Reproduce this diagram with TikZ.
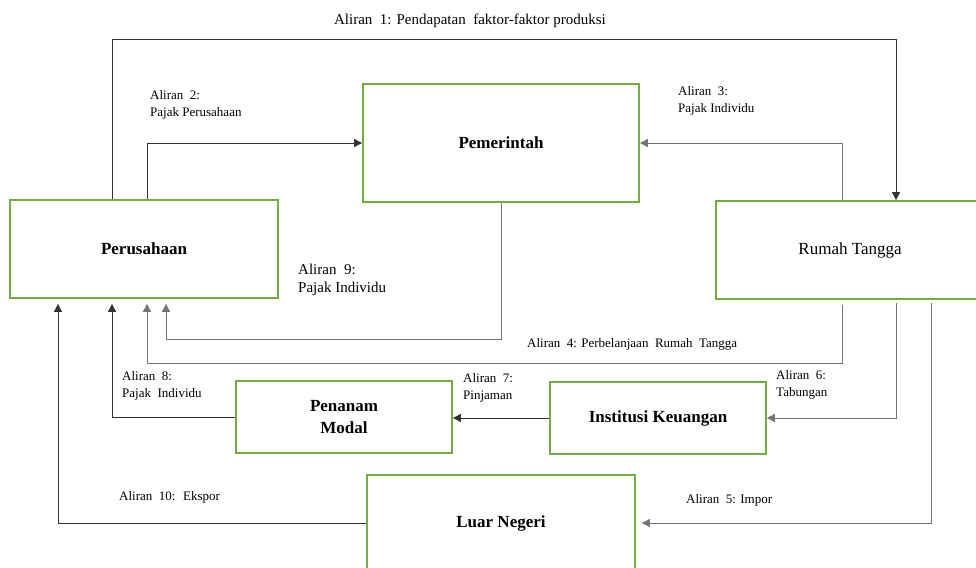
\documentclass[tikz,border=0pt]{standalone}
\usepackage{fontspec}
\setmainfont{Liberation Serif}
\usetikzlibrary{arrows.meta}
\definecolor{secGreen}{RGB}{112,173,71}
\definecolor{flowDark}{RGB}{50,50,50}
\definecolor{flowGrey}{RGB}{115,115,115}

\begin{document}
\begin{tikzpicture}[x=1pt, y=-1pt,
    sector/.style={draw=secGreen, line width=1.8pt, align=center,
                   font=\fontsize{17}{22}\selectfont},
    flow/.style={draw=flowDark, line width=0.9pt,
                 -{Triangle[length=8pt, width=8pt]}},
    flowlabel/.style={anchor=north west, inner sep=0pt, align=left,
                      font=\fontsize{13}{17}\selectfont}]
    \useasboundingbox (0,0) rectangle (976,567);
    \clip (0,0) rectangle (976,567);
    % sectors
    \node[sector, minimum width=268pt, minimum height=98pt] (perusahaan) at (144,249)
      {\textbf{Perusahaan}};
    \node[sector, minimum width=276pt, minimum height=118pt] (pemerintah) at (501,143)
      {\textbf{Pemerintah}};
    \node[sector, minimum width=268pt, minimum height=98pt] (rumah) at (850,250)
      {Rumah Tangga};
    \node[sector, minimum width=216pt, minimum height=72pt] (penanam) at (344,417)
      {\textbf{Penanam}\\\textbf{Modal}};
    \node[sector, minimum width=216pt, minimum height=72pt] (institusi) at (658,418)
      {\textbf{Institusi Keuangan}};
    \node[sector, minimum width=268pt, minimum height=96pt] (luar) at (501,523)
      {\textbf{Luar Negeri}};
    % flows
    \draw[flow] ([xshift=-32pt]perusahaan.north) -- ++(0,-160) -| ([xshift=46pt]rumah.north);
    \draw[flow] ([xshift=3pt]perusahaan.north) |- (pemerintah.west);
    \draw[flow, draw=flowGrey] ([xshift=-8pt]rumah.north) |- (pemerintah.east);
    \draw[flow, draw=flowGrey, shorten <=5pt, shorten >=5pt]
      ([xshift=-8pt]rumah.south) -- ++(0,64) -| ([xshift=3pt]perusahaan.south);
    \draw[flow, draw=flowGrey, shorten <=3pt, shorten >=6pt]
      ([xshift=81pt]rumah.south) |- (luar.east);
    \draw[flow, draw=flowGrey, shorten <=3pt] ([xshift=46pt]rumah.south) |- (institusi.east);
    \draw[flow] (institusi.west) -- (institusi.west -| penanam.east);
    \draw[flow, shorten >=5pt] (penanam.west) -| ([xshift=-32pt]perusahaan.south);
    \draw[flow, draw=flowGrey, shorten >=5pt]
      (pemerintah.south) -- ++(0,137) -| ([xshift=22pt]perusahaan.south);
    \draw[flow, shorten >=5pt] (luar.west) -| ([xshift=-86pt]perusahaan.south);
    % labels
    \node[flowlabel, anchor=north, font=\fontsize{15}{18}\selectfont] (lbl1) at (470,14)
      {Aliran~ 1: Pendapatan~ faktor-faktor produksi};
    \node[flowlabel] (lbl2) at (150,90) {Aliran~~2:\\Pajak Perusahaan};
    \node[flowlabel] (lbl3) at (678,86) {Aliran~~3:\\Pajak Individu};
    \node[flowlabel] (lbl4) at (527,338) {Aliran~~4: Perbelanjaan~~Rumah~~Tangga};
    \node[flowlabel] (lbl5) at (686,494) {Aliran~~5: Impor};
    \node[flowlabel] (lbl6) at (776,370) {Aliran~~6:\\Tabungan};
    \node[flowlabel] (lbl7) at (463,373) {Aliran~~7:\\Pinjaman};
    \node[flowlabel] (lbl8) at (122,371) {Aliran~~8:\\Pajak~ Individu};
    \node[flowlabel, font=\fontsize{15}{18}\selectfont] (lbl9) at (298,264)
      {Aliran~ 9:\\Pajak Individu};
    \node[flowlabel] (lbl10) at (119,491) {Aliran~~10:~ Ekspor};
\end{tikzpicture}
\end{document}
